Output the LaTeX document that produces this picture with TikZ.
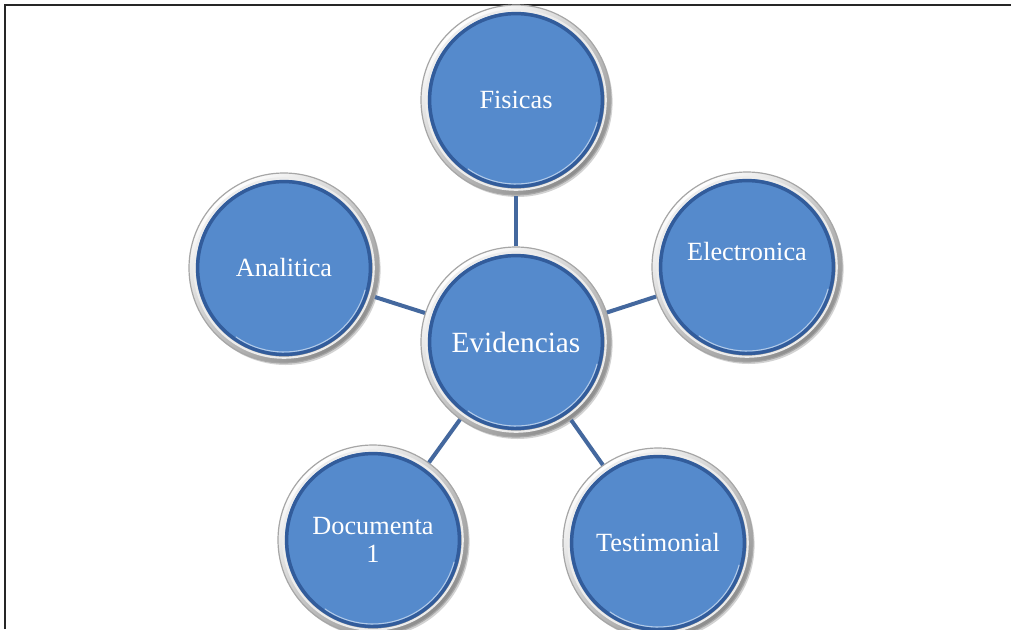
\documentclass[tikz,border=0pt]{standalone}
\usepackage{fontspec}
\setmainfont{Liberation Serif}
\usetikzlibrary{shadows}
\definecolor{bubfill}{RGB}{85,138,204}
\definecolor{bubedge}{RGB}{50,92,155}
\definecolor{linkc}{RGB}{68,104,158}
\begin{document}
\begin{tikzpicture}[x=0.75pt,y=-0.75pt,
  bub/.style={circle, inner sep=0pt, minimum size=142.5pt,
    drop shadow={shadow xshift=1.2pt, shadow yshift=-1.5pt, opacity=0.35},
    top color=white, bottom color=gray!90, shading angle=40,
    draw=gray!70, line width=0.9pt,
    path picture={
      \draw[white!85!gray, line width=1.6pt] (path picture bounding box.center) circle (67.3pt);
      \fill[bubfill] (path picture bounding box.center) circle (66pt);
      \draw[bubedge, line width=2.6pt] (path picture bounding box.center) circle (64.8pt);
      \draw[white!55!bubfill, line width=0.8pt] (path picture bounding box.center) ++(-125:63pt) arc (-125:-15:63pt);
    },
    text=white, align=center, font=\fontsize{19.7}{20.5}\selectfont},
  link/.style={draw=linkc, line width=3pt},
  frame/.style={draw=black!85, line width=1.5pt}]
\useasboundingbox (0,0) rectangle (1011,629);
\fill[white] (0,0) rectangle (1011,629);
\coordinate (c1) at (5,629);
\coordinate (c2) at (5,5);
\coordinate (c3) at (1011,5);
\draw[frame] (c1) -- (c2) -- (c3);
\node[bub] (F) at (516,100) {Fisicas};
\node[bub, font=\fontsize{22}{24}\selectfont] (E) at (516,342) {Evidencias};
\node[bub] (El) at (747,267) {Electronica\\[3pt]\mbox{}};
\node[bub] (A) at (284,268) {Analitica};
\node[bub] (D) at (373,540) {Documenta\\1};
\node[bub] (T) at (658,543) {Testimonial};
\draw[link] (E) -- (F);
\draw[link] (E) -- (El);
\draw[link] (E) -- (A);
\draw[link] (E) -- (D);
\draw[link] (E) -- (T);
\end{tikzpicture}
\end{document}
